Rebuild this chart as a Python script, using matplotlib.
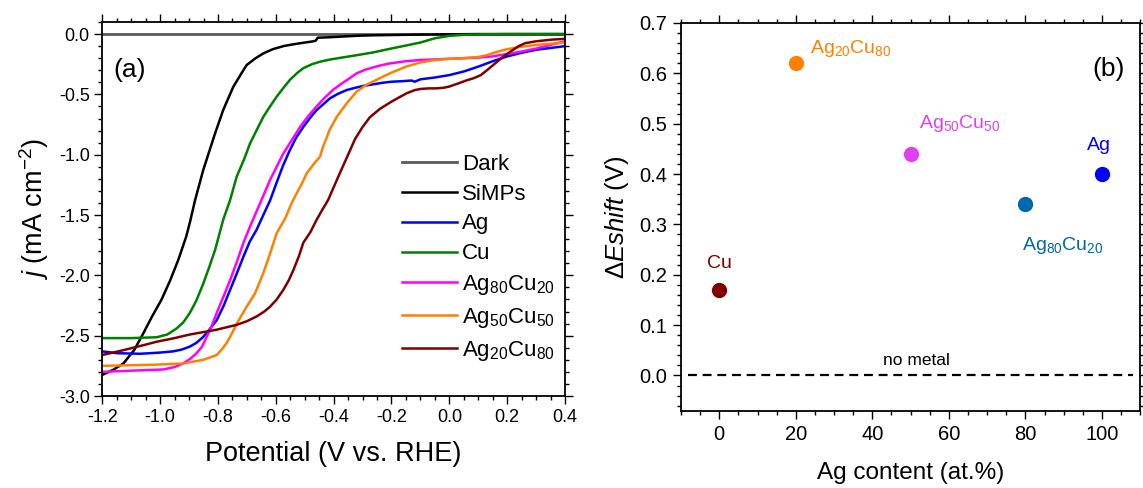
import matplotlib
matplotlib.use('Agg')
import matplotlib.pyplot as plt
from matplotlib.ticker import MultipleLocator, FormatStrFormatter

plt.rcParams['font.family'] = ['Liberation Sans', 'DejaVu Sans']
plt.rcParams['axes.unicode_minus'] = False
plt.rcParams['mathtext.fontset'] = 'custom'
plt.rcParams['mathtext.rm'] = 'Liberation Sans'
plt.rcParams['mathtext.it'] = 'Liberation Sans:italic'
plt.rcParams['mathtext.default'] = 'regular'

# ---- panel (a): linear sweep voltammetry curves ----
dark_v = [-1.2, 0.4]
dark_j = [0.0, 0.0]

simps_v = [-1.2, -1.16, -1.127, -1.09, -1.058, -1.03, -0.995, -0.965, -0.937, -0.91,
           -0.897, -0.879, -0.851, -0.81, -0.782, -0.747, -0.72, -0.701, -0.67, -0.643,
           -0.61, -0.574, -0.54, -0.505, -0.47, -0.462, -0.455, -0.42, -0.38, -0.32,
           -0.26, -0.205, -0.15, -0.1, -0.05, 0.0, 0.05, 0.1, 0.2, 0.3, 0.4]
simps_j = [-2.825, -2.78, -2.73, -2.62, -2.48, -2.35, -2.20, -2.04, -1.87, -1.68,
           -1.56, -1.375, -1.127, -0.823, -0.63, -0.437, -0.33, -0.257, -0.2, -0.16,
           -0.125, -0.10, -0.085, -0.072, -0.06, -0.055, -0.03, -0.027, -0.022, -0.014,
           -0.01, -0.008, -0.006, -0.004, -0.003, -0.002, -0.001, 0.0, 0.0, 0.0, 0.0]

ag_v = [-1.2, -1.15, -1.07, -1.0, -0.955, -0.925, -0.897, -0.875, -0.851, -0.83,
        -0.804, -0.78, -0.758, -0.735, -0.712, -0.69, -0.666, -0.649, -0.62, -0.597,
        -0.575, -0.551, -0.53, -0.505, -0.48, -0.459, -0.435, -0.413, -0.385, -0.355,
        -0.325, -0.298, -0.26, -0.229, -0.2, -0.16, -0.13, -0.12, -0.11, -0.1,
        -0.05, 0.0, 0.05, 0.1, 0.15, 0.2, 0.25, 0.3, 0.35, 0.4]
ag_j = [-2.63, -2.645, -2.65, -2.64, -2.63, -2.615, -2.59, -2.56, -2.51, -2.45,
        -2.37, -2.25, -2.12, -1.985, -1.845, -1.72, -1.62, -1.53, -1.38, -1.23,
        -1.09, -0.96, -0.86, -0.77, -0.69, -0.63, -0.58, -0.533, -0.495, -0.464,
        -0.445, -0.43, -0.415, -0.403, -0.395, -0.39, -0.385, -0.395, -0.385, -0.375,
        -0.36, -0.34, -0.31, -0.27, -0.225, -0.185, -0.155, -0.13, -0.115, -0.10]

cu_v = [-1.2, -1.1, -1.012, -0.975, -0.943, -0.92, -0.897, -0.875, -0.851, -0.83,
        -0.81, -0.782, -0.758, -0.735, -0.71, -0.689, -0.665, -0.643, -0.62, -0.597,
        -0.575, -0.551, -0.525, -0.505, -0.475, -0.447, -0.41, -0.367, -0.32, -0.263,
        -0.205, -0.15, -0.1, -0.05, 0.0, 0.05, 0.1, 0.2, 0.3, 0.4]
cu_j = [-2.52, -2.52, -2.513, -2.49, -2.44, -2.39, -2.31, -2.21, -2.07, -1.93,
        -1.79, -1.54, -1.375, -1.18, -1.04, -0.906, -0.79, -0.685, -0.6, -0.519,
        -0.45, -0.379, -0.32, -0.283, -0.25, -0.229, -0.21, -0.193, -0.175, -0.152,
        -0.122, -0.095, -0.07, -0.035, -0.015, -0.006, -0.003, 0.0, 0.0, 0.0]

ag80_v = [-1.2, -1.1, -0.989, -0.95, -0.92, -0.895, -0.874, -0.855, -0.839, -0.82,
          -0.804, -0.78, -0.758, -0.735, -0.712, -0.69, -0.672, -0.645, -0.62, -0.597,
          -0.574, -0.545, -0.516, -0.488, -0.459, -0.43, -0.401, -0.372, -0.344, -0.32,
          -0.29, -0.263, -0.235, -0.205, -0.15, -0.1, -0.05, 0.0, 0.05, 0.1,
          0.15, 0.2, 0.25, 0.3, 0.35, 0.4]
ag80_j = [-2.80, -2.79, -2.78, -2.76, -2.73, -2.69, -2.645, -2.59, -2.51, -2.41,
          -2.31, -2.17, -2.04, -1.89, -1.73, -1.60, -1.50, -1.35, -1.21, -1.10,
          -0.99, -0.88, -0.77, -0.68, -0.60, -0.525, -0.46, -0.41, -0.365, -0.325,
          -0.295, -0.276, -0.258, -0.243, -0.225, -0.215, -0.21, -0.205, -0.2, -0.195,
          -0.185, -0.165, -0.145, -0.12, -0.09, -0.06]

ag50_v = [-1.2, -1.1, -1.012, -0.92, -0.851, -0.804, -0.782, -0.77, -0.758, -0.735,
          -0.701, -0.672, -0.643, -0.62, -0.597, -0.568, -0.545, -0.528, -0.51, -0.493,
          -0.47, -0.447, -0.436, -0.413, -0.389, -0.355, -0.32, -0.286, -0.24, -0.205,
          -0.15, -0.1, -0.05, 0.0, 0.05, 0.1, 0.13, 0.16, 0.2, 0.25, 0.3, 0.35, 0.4]
ag50_j = [-2.75, -2.745, -2.74, -2.73, -2.70, -2.66, -2.60, -2.56, -2.51, -2.40,
          -2.26, -2.15, -1.98, -1.82, -1.65, -1.53, -1.40, -1.32, -1.24, -1.154,
          -1.08, -1.016, -0.93, -0.79, -0.685, -0.574, -0.476, -0.42, -0.365, -0.325,
          -0.27, -0.235, -0.215, -0.205, -0.2, -0.19, -0.175, -0.15, -0.125, -0.105,
          -0.09, -0.08, -0.07]

ag20_v = [-1.2, -1.127, -1.06, -1.012, -0.95, -0.897, -0.85, -0.804, -0.77, -0.735,
          -0.7, -0.666, -0.64, -0.62, -0.597, -0.574, -0.555, -0.539, -0.52, -0.505,
          -0.48, -0.459, -0.44, -0.419, -0.4, -0.378, -0.35, -0.326, -0.3, -0.275,
          -0.24, -0.2, -0.17, -0.147, -0.12, -0.1, -0.07, -0.044, -0.02, 0.0,
          0.03, 0.058, 0.085, 0.109, 0.13, 0.16, 0.185, 0.212, 0.24, 0.263,
          0.3, 0.327, 0.36, 0.4]
ag20_j = [-2.66, -2.62, -2.58, -2.55, -2.52, -2.49, -2.47, -2.45, -2.43, -2.41,
          -2.38, -2.34, -2.30, -2.26, -2.20, -2.12, -2.04, -1.955, -1.84, -1.73,
          -1.64, -1.54, -1.46, -1.375, -1.27, -1.15, -1.0, -0.87, -0.77, -0.69,
          -0.62, -0.56, -0.52, -0.49, -0.465, -0.455, -0.45, -0.45, -0.445, -0.435,
          -0.41, -0.385, -0.365, -0.34, -0.3, -0.24, -0.19, -0.144, -0.1, -0.075,
          -0.06, -0.053, -0.045, -0.04]

curves = [
    (dark_v, dark_j, '#5a5a5a', 'Dark'),
    (simps_v, simps_j, '#000000', 'SiMPs'),
    (ag_v, ag_j, '#0000ff', 'Ag'),
    (cu_v, cu_j, '#008000', 'Cu'),
    (ag80_v, ag80_j, '#ff00ff', 'Ag$_{80}$Cu$_{20}$'),
    (ag50_v, ag50_j, '#ff8000', 'Ag$_{50}$Cu$_{50}$'),
    (ag20_v, ag20_j, '#800000', 'Ag$_{20}$Cu$_{80}$'),
]

# ---- panel (b): onset shift vs Ag content ----
ag_content = [0, 20, 50, 80, 100]
e_shift = [0.17, 0.62, 0.44, 0.34, 0.40]
pt_labels = ['Cu', 'Ag$_{20}$Cu$_{80}$', 'Ag$_{50}$Cu$_{50}$', 'Ag$_{80}$Cu$_{20}$', 'Ag']
pt_colors = ['#800000', '#ff8000', '#e040f0', '#0068b0', '#0000ff']

fig = plt.figure(figsize=(11.43, 4.88), dpi=100)
ax1 = fig.add_axes([0.0895, 0.1885, 0.4048, 0.7664])
ax2 = fig.add_axes([0.5958, 0.1584, 0.4018, 0.7945])

for v, j, c, lab in curves:
    lw = 2.0 if lab == 'Dark' else 1.8
    ax1.plot(v, j, color=c, lw=lw, label=lab)

ax1.set_xlim(-1.2, 0.4)
ax1.set_ylim(-3.0, 0.1)
ax1.xaxis.set_major_locator(MultipleLocator(0.2))
ax1.xaxis.set_minor_locator(MultipleLocator(0.05))
ax1.yaxis.set_major_locator(MultipleLocator(0.5))
ax1.yaxis.set_minor_locator(MultipleLocator(0.1))
ax1.xaxis.set_major_formatter(FormatStrFormatter('%.1f'))
ax1.yaxis.set_major_formatter(FormatStrFormatter('%.1f'))
ax1.set_xlabel('Potential (V vs. RHE)', fontsize=19.5, labelpad=11)
ax1.set_ylabel(r'$\mathit{j}$ (mA cm$^{-2}$)', fontsize=19.5, labelpad=6)
ax1.text(0.058, 0.872, '(a)', transform=ax1.transAxes, fontsize=19,
         ha='center', va='center')
ax1.legend(loc='upper left', bbox_to_anchor=(0.647, 0.648), frameon=False,
           fontsize=16, handlelength=2.48, handletextpad=0.25,
           labelspacing=0.4, borderpad=0, borderaxespad=0)

for ax in (ax1, ax2):
    ax.tick_params(which='both', direction='out', top=True, right=True, width=1.0)
    ax.tick_params(which='major', length=6)
    ax.tick_params(which='minor', length=3)
    for s in ax.spines.values():
        s.set_linewidth(1.3)
ax1.tick_params(which='major', labelsize=13, pad=3)

# panel (b)
ax2.axhline(0, xmin=0.015, xmax=0.985, color='black', lw=1.6, ls=(0, (4, 2.6)))
for x, y, c in zip(ag_content, e_shift, pt_colors):
    ax2.plot(x, y, 'o', ms=10, color=c, mec=c)

label_pos = [(0, 0.222, 'center'), (23.8, 0.65, 'left'), (52.3, 0.501, 'left'),
             (79.1, 0.259, 'left'), (99.3, 0.457, 'center')]
for lab, c, (lx, ly, ha) in zip(pt_labels, pt_colors, label_pos):
    ax2.text(lx, ly, lab, color=c, fontsize=14, ha=ha, va='center')
ax2.text(51.5, 0.029, 'no metal', fontsize=12.5, ha='center', va='center')
ax2.text(101.7, 0.609, '(b)', fontsize=19, ha='center', va='center')

ax2.set_xlim(-10, 110)
ax2.set_ylim(-0.07, 0.7)
ax2.xaxis.set_major_locator(MultipleLocator(20))
ax2.xaxis.set_minor_locator(MultipleLocator(5))
ax2.yaxis.set_major_locator(MultipleLocator(0.1))
ax2.yaxis.set_minor_locator(MultipleLocator(0.02))
ax2.yaxis.set_major_formatter(FormatStrFormatter('%.1f'))
ax2.tick_params(which='major', labelsize=14.5, pad=4)
ax2.set_xlabel('Ag content (at.%)', fontsize=17.5, labelpad=13)
ax2.set_ylabel(r'$\mathit{\Delta Eshift}$ (V)', fontsize=18.5, labelpad=6)

fig.savefig('out.png', dpi=100)
